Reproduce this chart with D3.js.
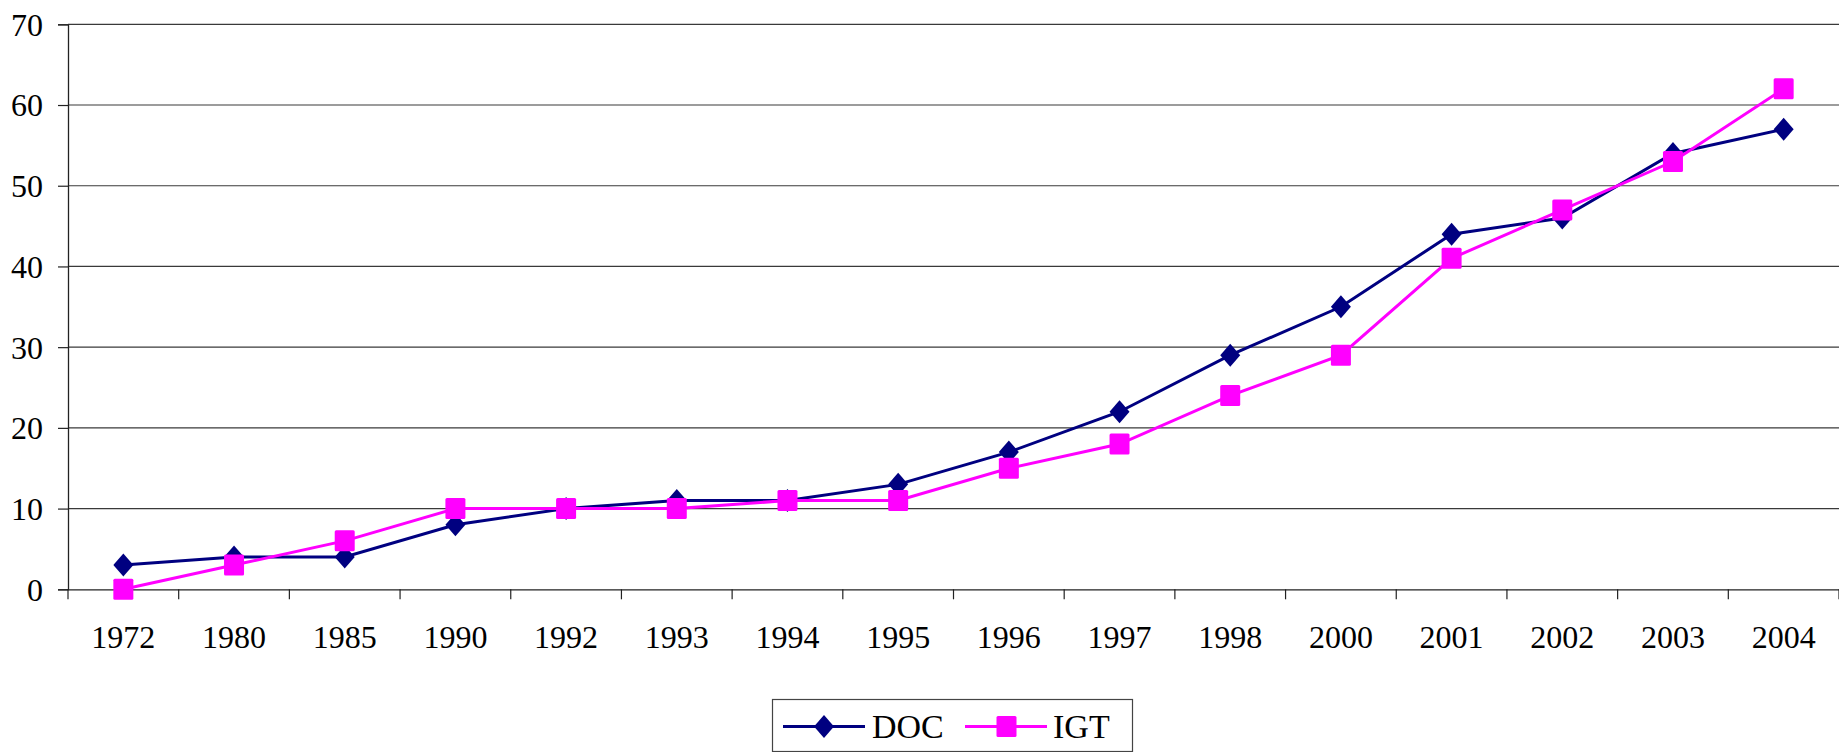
<!DOCTYPE html>
<html>
<head>
<meta charset="utf-8">
<script src="https://cdn.jsdelivr.net/npm/d3@7"></script>
<style>
  html, body { margin: 0; padding: 0; background: #fff; }
  svg { display: block; }
  svg text { font-family: "Liberation Serif", "DejaVu Serif", serif !important; fill: #000; }
</style>
</head>
<body>
<svg id="chart" width="1839" height="752"></svg>
<script>
const categories = ["1972","1980","1985","1990","1992","1993","1994","1995","1996","1997","1998","2000","2001","2002","2003","2004"];
const docValues = [3, 4, 4, 8, 10, 11, 11, 13, 17, 22, 29, 35, 44, 46, 54, 57];
const igtValues = [0, 3, 6, 10, 10, 10, 11, 11, 15, 18, 24, 29, 41, 47, 53, 62];
const yTicks = [0, 10, 20, 30, 40, 50, 60, 70];
const seriesNames = ["DOC", "IGT"];

(function () {
const svg = d3.select("#chart");
const mLeft = 68, mRight = 1839, mTop = 24.3, mBottom = 589.3;
const fontSize = 32;

const x = d3.scaleBand().domain(categories).range([mLeft, mRight]).paddingInner(0).paddingOuter(0);
const y = d3.scaleLinear().domain([0, 70]).range([mBottom, mTop]);

// gridlines
svg.append("g").selectAll("line").data(yTicks.filter(d => d > 0)).join("line")
  .attr("x1", mLeft).attr("x2", mRight)
  .attr("y1", d => y(d)).attr("y2", d => y(d))
  .attr("stroke", "#3a3a3a").attr("stroke-width", 1.2);

// y axis
const yAxis = svg.append("g").attr("transform", `translate(${mLeft},0)`)
  .call(d3.axisLeft(y).tickValues(yTicks).tickSize(10).tickPadding(0));
yAxis.attr("font-family", "Liberation Serif").attr("font-size", fontSize);
yAxis.select(".domain").attr("stroke", "#222").attr("stroke-width", 1.3);
yAxis.selectAll(".tick line").attr("stroke", "#222").attr("stroke-width", 1.2);
yAxis.selectAll(".tick text")
  .attr("x", -25).attr("dy", "0.34em").attr("fill", "#000");

// x axis
const xAxis = svg.append("g").attr("transform", `translate(0,${mBottom})`)
  .call(d3.axisBottom(x).tickSize(0).tickPadding(0));
xAxis.attr("font-family", "Liberation Serif").attr("font-size", fontSize);
xAxis.select(".domain").attr("stroke", "#222").attr("stroke-width", 1.3);
xAxis.selectAll(".tick text")
  .attr("y", 59).attr("dy", 0).attr("fill", "#000");
// boundary ticks between categories
const bounds = categories.map(c => x(c)).concat([x(categories[categories.length - 1]) + x.bandwidth()]);
xAxis.append("g").selectAll("line").data(bounds).join("line")
  .attr("x1", d => d).attr("x2", d => d).attr("y1", 0).attr("y2", 10)
  .attr("stroke", "#222").attr("stroke-width", 1.2);

const cx = c => x(c) + x.bandwidth() / 2;
const navy = "#000080", magenta = "#ff00ff";

const line = d3.line().x(d => cx(d.c)).y(d => y(d.v));
const docData = categories.map((c, i) => ({c, v: docValues[i]}));
const igtData = categories.map((c, i) => ({c, v: igtValues[i]}));

function diamond(g, px, py, color) {
  g.append("path")
    .attr("d", `M${px},${py - 11.5} L${px + 10},${py} L${px},${py + 11.5} L${px - 10},${py} Z`)
    .attr("fill", color);
}
function square(g, px, py, color) {
  g.append("rect").attr("x", px - 10).attr("y", py - 10.5).attr("width", 20).attr("height", 21)
    .attr("rx", 1.5).attr("fill", color);
}

svg.append("path").datum(docData).attr("d", line).attr("fill", "none").attr("stroke", navy).attr("stroke-width", 3);
const gDoc = svg.append("g");
docData.forEach(d => diamond(gDoc, cx(d.c), y(d.v), navy));

svg.append("path").datum(igtData).attr("d", line).attr("fill", "none").attr("stroke", magenta).attr("stroke-width", 3);
const gIgt = svg.append("g");
igtData.forEach(d => square(gIgt, cx(d.c), y(d.v), magenta));

// legend
const lg = svg.append("g");
lg.append("rect").attr("x", 772.5).attr("y", 699.5).attr("width", 360).attr("height", 52)
  .attr("fill", "#fff").attr("stroke", "#444").attr("stroke-width", 1.2);
const ly = 726.5;
lg.append("line").attr("x1", 783).attr("x2", 865).attr("y1", ly).attr("y2", ly).attr("stroke", navy).attr("stroke-width", 3);
diamond(lg, 824, ly, navy);
lg.append("text").attr("x", 872).attr("y", ly).attr("dy", "0.34em").style("font-size", "34px").text(seriesNames[0]);
lg.append("line").attr("x1", 965).attr("x2", 1047).attr("y1", ly).attr("y2", ly).attr("stroke", magenta).attr("stroke-width", 3);
square(lg, 1006.5, ly, magenta);
lg.append("text").attr("x", 1053).attr("y", ly).attr("dy", "0.34em").style("font-size", "34px").text(seriesNames[1]);
})();
</script>
</body>
</html>
